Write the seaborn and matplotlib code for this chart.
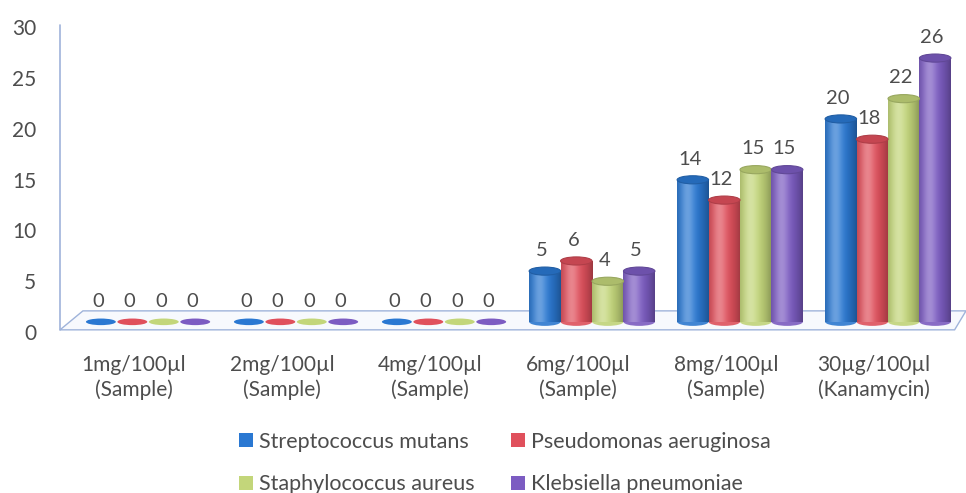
import numpy as np
import pandas as pd
import matplotlib
matplotlib.use("Agg")
import matplotlib.pyplot as plt
import matplotlib.transforms as mtransforms
from matplotlib.patches import Ellipse, Polygon, Patch
from matplotlib.colors import to_rgb
import seaborn as sns

# Zone of inhibition (mm) for each concentration and organism
doses = ["1mg/100µl\n(Sample)", "2mg/100µl\n(Sample)", "4mg/100µl\n(Sample)",
         "6mg/100µl\n(Sample)", "8mg/100µl\n(Sample)", "30µg/100µl\n(Kanamycin)"]
species = ["Streptococcus mutans", "Pseudomonas aeruginosa",
           "Staphylococcus aureus", "Klebsiella pneumoniae"]
s_mutans = [0, 0, 0, 5, 14, 20]
p_aeruginosa = [0, 0, 0, 6, 12, 18]
s_aureus = [0, 0, 0, 4, 15, 22]
k_pneumoniae = [0, 0, 0, 5, 15, 26]
y_ticks = [0, 5, 10, 15, 20, 25, 30]

colors = ["#2a78d2", "#e0505c", "#c3d67a", "#7c5cc2"]

sns.set_theme(style="white")
plt.rcParams["font.family"] = ["Lato", "DejaVu Sans"]
text_color = "#4d4d4d"
axis_color = "#9fb3da"

rows = []
for name, vals in zip(species, [s_mutans, p_aeruginosa, s_aureus, k_pneumoniae]):
    for d, v in zip(doses, vals):
        rows.append({"dose": d, "species": name, "zone": v})
df = pd.DataFrame(rows)

fig = plt.figure(figsize=(9.66, 4.93), dpi=100)
W, H = 966, 493
ax = fig.add_axes([60 / W, 1 - 334 / H, (W - 60) / W, (334 - 17.5) / H])

sns.barplot(data=df, x="dose", y="zone", hue="species", hue_order=species,
            order=doses, palette=colors, width=0.85, saturation=1,
            ax=ax, legend=False, zorder=3)

xlim = (-0.595, 5.527)
ylim = (-1.2, 30)


def shade(rgb, t):
    """Horizontal cylinder shading: highlight left of centre, darker rims."""
    rgb = np.asarray(rgb)[None, :]
    t = np.atleast_1d(np.asarray(t, dtype=float))[:, None]
    hl = np.exp(-((t - 0.33) / 0.22) ** 2)
    dark = np.clip(np.abs(t - 0.4) / 0.6, 0, 1) ** 2
    out = rgb * (1 - 0.3 * dark)
    out = out + (1 - out) * 0.3 * hl
    return np.clip(out, 0, 1)


# Floor of the plot area
floor = Polygon([(-0.595, -0.79), (-0.44, 1.08), (5.527, 1.08), (5.45, -0.79)],
                closed=True, facecolor="#f7f9fd", edgecolor=axis_color,
                linewidth=1.0, zorder=1, clip_on=False)
ax.add_patch(floor)
# Vertical value axis line
ax.plot([-0.595, -0.595], [-0.79, 29.3], color=axis_color, lw=1.2,
        clip_on=False, zorder=2)

bars = [p for p in ax.patches if p is not floor]
t = np.linspace(0, 1, 64)
cap_h = 0.8
for patch in bars:
    x0 = patch.get_x()
    w = patch.get_width()
    h = patch.get_height()
    xc = x0 + w / 2
    base = np.array(to_rgb(patch.get_facecolor()))
    patch.set_edgecolor("none")
    if h > 0:
        grad = shade(base, t)[None, :, :]
        im = ax.imshow(grad, extent=[x0, x0 + w, 0, h], aspect="auto",
                       zorder=3.5, interpolation="bilinear")
        im.set_clip_path(patch)
        bottom = Ellipse((xc, 0), w, cap_h, facecolor=shade(base, 0.55)[0],
                         edgecolor="none", zorder=3.2)
        ax.add_patch(bottom)
        top = Ellipse((xc, h), w, cap_h, facecolor=np.clip(base * 0.88, 0, 1),
                      edgecolor=np.clip(base * 0.78, 0, 1), lw=0.8, zorder=3.8)
        ax.add_patch(top)
    else:
        flat = Ellipse((xc, 0), w * 0.95, 0.65, facecolor=base,
                       edgecolor="none", zorder=3.2)
        ax.add_patch(flat)
    ax.text(xc - 0.02, h + 2.05, f"{h:g}", ha="center", va="center",
            fontsize=14.5, color=text_color, zorder=5)

ax.set_xlim(*xlim)
ax.set_ylim(*ylim)
ax.set_xlabel("")
ax.set_ylabel("")
for s in ax.spines.values():
    s.set_visible(False)
ax.grid(False)
ax.set_facecolor("none")

ax.set_yticks(y_ticks)
ax.set_yticklabels([str(v) for v in y_ticks])
ax.tick_params(axis="y", length=0, pad=17, labelsize=15, labelcolor=text_color)
ax.tick_params(axis="x", length=0, pad=15, labelsize=15, labelcolor=text_color)
down = mtransforms.ScaledTranslation(0, -10 / 100, fig.dpi_scale_trans)
for lab in ax.get_yticklabels():
    lab.set_transform(lab.get_transform() + down)
left = mtransforms.ScaledTranslation(-14 / 100, 0, fig.dpi_scale_trans)
for lab in ax.get_xticklabels():
    lab.set_transform(lab.get_transform() + left)
    lab.set_linespacing(1.3)

# Legend laid out row by row (columns are filled first by matplotlib)
order = [0, 2, 1, 3]
handles = [Patch(facecolor=colors[i], edgecolor="none") for i in order]
labels = [species[i] for i in order]
fig.legend(handles, labels, loc="center", ncol=2,
           bbox_to_anchor=(505 / W, 1 - 463 / H), frameon=False,
           fontsize=15.5, labelcolor=text_color, handlelength=0.62,
           handleheight=0.62, handletextpad=0.3, columnspacing=1.7,
           labelspacing=1.05)

fig.savefig("out.png", dpi=100, facecolor="white")
